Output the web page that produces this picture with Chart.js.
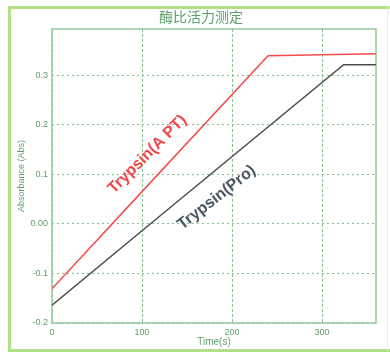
<!DOCTYPE html>
<html>
<head>
<meta charset="utf-8">
<script src="https://cdn.jsdelivr.net/npm/chart.js@4.4.1/dist/chart.umd.min.js"></script>
<style>
    body { margin: 0; background: #fff; }
    #wrap { width: 390px; height: 354px; }
</style>
</head>
<body>
<div id="wrap"><canvas id="myChart"></canvas></div>
<script>
// measured absorbance over time for the two samples
const timeAPT = [0, 100, 240, 360];
const absAPT = [-0.131, 0.065, 0.339, 0.343];
const timePro = [0, 100, 324, 360];
const absPro = [-0.164, -0.014, 0.321, 0.321];

const xTicks = [0, 100, 200, 300];
const yTicks = [-0.2, -0.1, 0, 0.1, 0.2, 0.3];
const yTickLabels = ["-0.2", "-0.1", "0.00", "0.1", "0.2", "0.3"];

const chartTitle = "酶比活力测定";
const seriesNames = ["Trypsin(A PT)", "Trypsin(Pro)"];

const green = "#86c28f";
const labelGreen = "#5f9f6c";

const toPoints = (xs, ys) => xs.map((x, i) => ({ x: x, y: ys[i] }));

// outer frame, title and plot box
const decor = {
    id: "decor",
    beforeDraw(chart) {
        const ctx = chart.ctx;
        ctx.save();
        ctx.strokeStyle = "#b3df88";
        ctx.lineWidth = 3;
        ctx.beginPath();
        ctx.moveTo(390, 7.5);
        ctx.lineTo(9.5, 7.5);
        ctx.lineTo(9.5, 350.5);
        ctx.lineTo(390, 350.5);
        ctx.stroke();
        ctx.strokeStyle = "#e4f3d6";
        ctx.lineWidth = 1;
        ctx.beginPath();
        ctx.moveTo(387.5, 7);
        ctx.lineTo(387.5, 351);
        ctx.stroke();

        ctx.fillStyle = labelGreen;
        ctx.font = "14px 'Noto Sans CJK SC'";
        ctx.textAlign = "center";
        ctx.textBaseline = "middle";
        ctx.fillText(chartTitle, 201, 17);
        ctx.restore();
    },
    beforeDatasetsDraw(chart) {
        const { ctx, chartArea: a } = chart;
        ctx.save();
        ctx.strokeStyle = "#92c99c";
        ctx.lineWidth = 1.5;
        ctx.strokeRect(a.left, a.top, a.right - a.left, a.bottom - a.top);
        ctx.restore();
    },
    afterDatasetsDraw(chart) {
        const { ctx, scales } = chart;
        // series names written along each line
        const spots = [
            { x: 106, y: 0.14, angle: -45, color: "#f0474a" },
            { x: 183, y: 0.053, angle: -38, color: "#4b5663" },
        ];
        ctx.save();
        ctx.font = "bold 16px 'Liberation Sans'";
        ctx.textAlign = "center";
        ctx.textBaseline = "middle";
        spots.forEach((s, i) => {
            ctx.save();
            ctx.translate(scales.x.getPixelForValue(s.x), scales.y.getPixelForValue(s.y));
            ctx.rotate((s.angle * Math.PI) / 180);
            ctx.fillStyle = s.color;
            ctx.fillText(seriesNames[i], 0, 0);
            ctx.restore();
        });
        ctx.restore();
    },
};

var ctx = document.getElementById("myChart").getContext("2d");
var myChart = new Chart(ctx, {
    type: "line",
    data: {
        datasets: [
            {
                label: seriesNames[0],
                data: toPoints(timeAPT, absAPT),
                borderColor: "#f24c4c",
                borderWidth: 1.5,
                pointRadius: 0,
                tension: 0,
            },
            {
                label: seriesNames[1],
                data: toPoints(timePro, absPro),
                borderColor: "#4d4d4d",
                borderWidth: 1.5,
                pointRadius: 0,
                tension: 0,
            },
        ],
    },
    options: {
        responsive: true,
        maintainAspectRatio: false,
        animation: false,
        layout: { padding: { left: 12, top: 29, right: 14, bottom: 4 } },
        plugins: {
            legend: { display: false },
            tooltip: { enabled: false },
        },
        scales: {
            x: {
                type: "linear",
                min: 0,
                max: 360,
                afterBuildTicks: (s) => {
                    s.ticks = xTicks.map((v) => ({ value: v }));
                },
                afterFit: (s) => {
                    s.height = 27;
                },
                ticks: {
                    padding: 4,
                    color: labelGreen,
                    font: { size: 9, family: "'Liberation Sans'" },
                    maxRotation: 0,
                },
                grid: { color: green, lineWidth: 1, drawTicks: false },
                border: { display: false, dash: [3, 2] },
                title: {
                    display: true,
                    text: "Time(s)",
                    color: labelGreen,
                    font: { size: 10, family: "'Liberation Sans'" },
                    padding: { top: 0, bottom: 2 },
                },
            },
            y: {
                type: "linear",
                min: -0.2,
                max: 0.393,
                afterBuildTicks: (s) => {
                    s.ticks = yTicks.map((v) => ({ value: v }));
                },
                afterFit: (s) => {
                    s.width = 40;
                },
                ticks: {
                    padding: 4,
                    color: labelGreen,
                    font: { size: 9, family: "'Liberation Sans'" },
                    callback: (v) => yTickLabels[yTicks.indexOf(Math.round(v * 10) / 10)],
                },
                grid: { color: green, lineWidth: 1, drawTicks: false },
                border: { display: false, dash: [2, 3] },
                title: {
                    display: true,
                    text: "Absorbance (Abs)",
                    color: labelGreen,
                    font: { size: 9, family: "'Liberation Sans'" },
                    padding: { top: 4, bottom: 0 },
                },
            },
        },
    },
    plugins: [decor],
});
</script>
</body>
</html>
